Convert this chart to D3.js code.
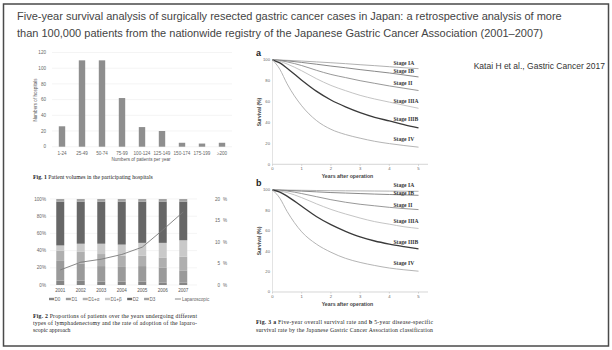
<!DOCTYPE html>
<html>
<head>
<meta charset="utf-8">
<script src="https://cdn.jsdelivr.net/npm/d3@7"></script>
<style>
  html, body { margin: 0; padding: 0; background: #fff; }
  svg { display: block; }
  .sans { font-family: "Liberation Sans", Arial, sans-serif; }
  .serif { font-family: "Liberation Serif", "Times New Roman", serif; }
</style>
</head>
<body>
<svg id="slide" width="612" height="350"></svg>
<script>
// ---- Fig. 1: hospitals by annual patient volume ----
const volumeBins = ["1-24", "25-49", "50-74", "75-99", "100-124", "125-149", "150-174", "175-199", "≥200"];
const hospitalCounts = [26, 110, 110, 62, 25, 20, 5, 4, 5];
const fig1Ticks = [0, 20, 40, 60, 80, 100, 120];

// ---- Fig. 2: lymphadenectomy types by year (%), laparoscopic rate (%) ----
const years = ["2001", "2002", "2003", "2004", "2005", "2006", "2007"];
const dissectionTypes = ["D0", "D1", "D1+α", "D1+β", "D2", "D3"];
const pctD0 = [5, 5, 4, 4, 4, 3, 3];
const pctD1 = [23, 20, 18, 17, 18, 17, 14];
const pctD1a = [12, 14, 14, 13, 12, 12, 16];
const pctD1b = [6, 9, 12, 13, 15, 17, 19];
const pctD2 = [51, 49, 49, 50, 48, 48, 45];
const pctD3 = [3, 3, 3, 3, 3, 3, 3];
const laparoscopicRate = [3.5, 5.3, 6.0, 7.1, 8.8, 12.8, 17.0];
const fig2LeftTicks = [0, 20, 40, 60, 80, 100];
const fig2RightTicks = [0, 5, 10, 15, 20];

// ---- Fig. 3: survival (%) by JGCA stage ----
const stages = ["Stage IA", "Stage IB", "Stage II", "Stage IIIA", "Stage IIIB", "Stage IV"];
const yearsAfterOp = [0, 0.25, 0.5, 1, 1.5, 2, 2.5, 3, 3.5, 4, 4.5, 5];
// a: overall survival
const osIA   = [100, 99.8, 99.5, 98.8, 98.0, 97.2, 96.3, 95.3, 94.4, 93.4, 92.4, 91.5];
const osIB   = [100, 99.6, 99.0, 97.5, 95.8, 94.0, 92.4, 90.6, 89.0, 87.4, 85.5, 83.6];
const osII   = [100, 99.3, 98.0, 94.5, 90.0, 86.0, 83.0, 80.0, 77.5, 75.0, 72.8, 70.6];
const osIIIA = [100, 98.5, 96.0, 89.5, 82.0, 75.5, 70.5, 66.0, 62.5, 59.5, 56.5, 53.6];
const osIIIB = [100, 97.0, 92.0, 80.5, 70.0, 61.5, 55.0, 49.5, 45.0, 41.5, 38.0, 34.8];
const osIV   = [100, 91.0, 77.0, 56.0, 42.0, 33.5, 28.5, 25.0, 22.0, 19.8, 18.0, 16.4];
// b: disease-specific survival
const dssIA   = [100, 100, 99.9, 99.7, 99.5, 99.3, 99.2, 99.1, 99.0, 98.9, 98.8, 98.7];
const dssIB   = [100, 99.9, 99.6, 98.9, 98.2, 97.5, 97.0, 96.5, 96.0, 95.6, 95.2, 94.8];
const dssII   = [100, 99.7, 99.0, 96.5, 93.5, 90.5, 88.0, 86.0, 84.5, 83.0, 81.8, 80.8];
const dssIIIA = [100, 99.0, 97.5, 92.5, 86.5, 81.0, 76.5, 72.5, 69.0, 66.5, 64.0, 62.3];
const dssIIIB = [100, 98.0, 94.0, 84.0, 74.0, 66.0, 59.5, 54.0, 50.0, 47.0, 44.5, 42.2];
const dssIV   = [100, 92.0, 79.0, 59.0, 47.0, 39.0, 33.0, 29.0, 26.0, 23.5, 21.8, 20.4];
const survivalTicks = [0, 20, 40, 60, 80, 100];
const yearTicks = [0, 1, 2, 3, 4, 5];

const svg = d3.select("#slide");

// slide frame
svg.append("rect").attr("x", 3.5).attr("y", 4).attr("width", 605).attr("height", 342)
  .attr("fill", "none").attr("stroke", "#4a4a4a").attr("stroke-width", 1.5);

// headline
const titleLines = [
  "Five-year survival analysis of surgically resected gastric cancer cases in Japan: a retrospective analysis of more",
  "than 100,000 patients from the nationwide registry of the Japanese Gastric Cancer Association (2001–2007)"
];
svg.append("g").selectAll("text").data(titleLines).join("text")
  .attr("class", "sans").attr("x", 17).attr("y", (d, i) => 19.5 + i * 17)
  .attr("font-size", 11).attr("fill", "#444").text(d => d);

svg.append("text").attr("class", "sans").attr("x", 605).attr("y", 69)
  .attr("text-anchor", "end")
  .attr("font-size", 8.5).attr("fill", "#333").text("Katai H et al., Gastric Cancer 2017");

const tiny = 4.6;

// ================= Fig. 1 =================
{
  const g = svg.append("g");
  const x = d3.scaleBand().domain(volumeBins).range([52, 232]).paddingInner(0.68).paddingOuter(0.34);
  const y = d3.scaleLinear().domain([0, 120]).range([146.7, 52.5]);

  g.append("g").selectAll("line").data(fig1Ticks).join("line")
    .attr("x1", 52).attr("x2", 232).attr("y1", d => y(d)).attr("y2", d => y(d))
    .attr("stroke", "#ececec").attr("stroke-width", 0.6);

  g.append("g").selectAll("text").data(fig1Ticks).join("text")
    .attr("class", "sans").attr("x", 46).attr("y", d => y(d)).attr("dy", "0.35em")
    .attr("text-anchor", "end").attr("font-size", tiny).attr("fill", "#666").text(d => d);

  g.append("g").selectAll("rect").data(hospitalCounts).join("rect")
    .attr("x", (d, i) => x(volumeBins[i])).attr("width", x.bandwidth())
    .attr("y", d => y(d)).attr("height", d => y(0) - y(d)).attr("fill", "#8e8e8e");

  g.append("g").selectAll("text").data(volumeBins).join("text")
    .attr("class", "sans").attr("x", d => x(d) + x.bandwidth() / 2).attr("y", 154.5)
    .attr("text-anchor", "middle").attr("font-size", tiny).attr("fill", "#666").text(d => d);

  g.append("text").attr("class", "sans").attr("x", 141).attr("y", 161)
    .attr("text-anchor", "middle").attr("font-size", tiny).attr("fill", "#555")
    .text("Numbers of patients per year");
  g.append("text").attr("class", "sans")
    .attr("transform", "translate(37,100) rotate(-90)")
    .attr("text-anchor", "middle").attr("font-size", tiny).attr("fill", "#555")
    .text("Numbers of hospitals");

  const cap = g.append("text").attr("class", "serif").attr("x", 33).attr("y", 179)
    .attr("font-size", 5.8).attr("fill", "#222");
  cap.append("tspan").attr("font-weight", "bold").text("Fig. 1");
  cap.append("tspan").text("  Patient volumes in the participating hospitals");
}

// ================= Fig. 2 =================
{
  const g = svg.append("g");
  const x = d3.scaleBand().domain(years).range([50, 193.5]).paddingInner(0.61).paddingOuter(0.305);
  const y = d3.scaleLinear().domain([0, 100]).range([285, 199]);
  const yR = d3.scaleLinear().domain([0, 20]).range([285, 199]);

  g.append("g").selectAll("line").data(fig2LeftTicks).join("line")
    .attr("x1", 50).attr("x2", 197).attr("y1", d => y(d)).attr("y2", d => y(d))
    .attr("stroke", "#ececec").attr("stroke-width", 0.6);

  g.append("g").selectAll("text").data(fig2LeftTicks).join("text")
    .attr("class", "sans").attr("x", 46).attr("y", d => y(d)).attr("dy", "0.35em")
    .attr("text-anchor", "end").attr("font-size", tiny).attr("fill", "#666").text(d => d + "%");

  const rightG = g.append("g").selectAll("g").data(fig2RightTicks).join("g");
  rightG.append("text").attr("class", "sans").attr("x", 220).attr("y", d => yR(d)).attr("dy", "0.35em")
    .attr("text-anchor", "end").attr("font-size", tiny).attr("fill", "#666").text(d => d);
  rightG.append("text").attr("class", "sans").attr("x", 223).attr("y", d => yR(d)).attr("dy", "0.35em")
    .attr("font-size", tiny).attr("fill", "#666").text("%");

  const typeColors = ["#858585", "#9a9a9a", "#afafaf", "#c9c9c9", "#676767", "#a2a2a2"];
  const rows = years.map((yr, i) => ({
    year: yr, D0: pctD0[i], D1: pctD1[i], "D1+α": pctD1a[i], "D1+β": pctD1b[i], D2: pctD2[i], D3: pctD3[i]
  }));
  const stacked = d3.stack().keys(dissectionTypes)(rows);
  g.append("g").selectAll("g").data(stacked).join("g")
    .attr("fill", (d, i) => typeColors[i])
    .selectAll("rect").data(d => d).join("rect")
    .attr("x", d => x(d.data.year)).attr("width", x.bandwidth())
    .attr("y", d => y(d[1])).attr("height", d => y(d[0]) - y(d[1]));

  const line = d3.line().x((d, i) => x(years[i]) + x.bandwidth() / 2).y(d => yR(d));
  g.append("path").datum(laparoscopicRate).attr("d", line)
    .attr("fill", "none").attr("stroke", "#7a7a7a").attr("stroke-width", 0.9);

  g.append("g").selectAll("text").data(years).join("text")
    .attr("class", "sans").attr("x", d => x(d) + x.bandwidth() / 2).attr("y", 292)
    .attr("text-anchor", "middle").attr("font-size", tiny).attr("fill", "#555").text(d => d);

  // legend
  const lg = g.append("g").attr("transform", "translate(49,299)");
  let cx = 0;
  dissectionTypes.forEach((t, i) => {
    lg.append("rect").attr("x", cx).attr("y", -1.2).attr("width", 5).attr("height", 2.4).attr("fill", typeColors[i]);
    const tx = lg.append("text").attr("class", "sans").attr("x", cx + 5.5).attr("y", 0).attr("dy", "0.35em")
      .attr("font-size", tiny).attr("fill", "#666").text(t);
    cx += 5.5 + tx.node().getComputedTextLength() + 5.5;
  });
  cx += 14;
  lg.append("line").attr("x1", cx).attr("x2", cx + 6).attr("y1", 0).attr("y2", 0)
    .attr("stroke", "#7a7a7a").attr("stroke-width", 0.9);
  lg.append("text").attr("class", "sans").attr("x", cx + 7).attr("y", 0).attr("dy", "0.35em")
    .attr("font-size", tiny).attr("fill", "#666").text("Laparoscopic");

  const capLines = [
    "types of lymphadenectomy and the rate of adoption of the laparo-",
    "scopic approach"
  ];
  const c1 = g.append("text").attr("class", "serif").attr("x", 33).attr("y", 317.5)
    .attr("font-size", 5.8).attr("fill", "#222").attr("textLength", 164).attr("lengthAdjust", "spacing");
  c1.append("tspan").attr("font-weight", "bold").text("Fig. 2");
  c1.append("tspan").text("  Proportions of patients over the years undergoing different");
  g.append("text").attr("class", "serif").attr("x", 33).attr("y", 324.8)
    .attr("font-size", 5.8).attr("fill", "#222").attr("textLength", 164).attr("lengthAdjust", "spacing")
    .text(capLines[0]);
  g.append("text").attr("class", "serif").attr("x", 33).attr("y", 332.1)
    .attr("font-size", 5.8).attr("fill", "#222").text(capLines[1]);
}

// ================= Fig. 3 =================
const stageColors = ["#a8a8a8", "#7c7c7c", "#8c8c8c", "#bdbdbd", "#3a3a3a", "#ababab"];
const stageWidths = [0.9, 0.9, 0.9, 0.9, 1.3, 0.9];

function survivalPanel(letter, series, yTop, yBottom, labelOffsets) {
  const g = svg.append("g");
  const x = d3.scaleLinear().domain([0, 5]).range([272.5, 418.5]);
  const y = d3.scaleLinear().domain([0, 100]).range([yBottom, yTop]);

  // axes
  g.append("line").attr("x1", x(0)).attr("x2", 428).attr("y1", y(0)).attr("y2", y(0))
    .attr("stroke", "#c4c4c4").attr("stroke-width", 0.7);
  g.append("line").attr("x1", x(0)).attr("x2", x(0)).attr("y1", y(0)).attr("y2", y(100))
    .attr("stroke", "#d0d0d0").attr("stroke-width", 0.6);
  g.append("g").selectAll("line").data(yearTicks).join("line")
    .attr("x1", d => x(d)).attr("x2", d => x(d)).attr("y1", y(0)).attr("y2", y(0) + 1.5)
    .attr("stroke", "#bbb").attr("stroke-width", 0.6);
  g.append("g").selectAll("text").data(yearTicks).join("text")
    .attr("class", "sans").attr("x", d => x(d)).attr("y", y(0) + 6)
    .attr("text-anchor", "middle").attr("font-size", 4.2).attr("fill", "#666").text(d => d);
  g.append("g").selectAll("text").data(survivalTicks).join("text")
    .attr("class", "sans").attr("x", 270).attr("y", d => y(d)).attr("dy", "0.35em")
    .attr("text-anchor", "end").attr("font-size", 4.2).attr("fill", "#666").text(d => d);

  g.append("text").attr("class", "sans").attr("x", (x(0) + x(5)) / 2 + 2).attr("y", y(0) + 14)
    .attr("text-anchor", "middle").attr("font-size", 5.2).attr("font-weight", "bold").attr("fill", "#444")
    .text("Years after operation");
  g.append("text").attr("class", "sans")
    .attr("transform", `translate(261,${(y(0) + y(100)) / 2}) rotate(-90)`)
    .attr("text-anchor", "middle").attr("font-size", 5).attr("font-weight", "bold").attr("fill", "#444")
    .text("Survival (%)");
  g.append("text").attr("class", "sans").attr("x", 256).attr("y", yTop - 4)
    .attr("font-size", 9).attr("font-weight", "bold").attr("fill", "#222").text(letter);

  const line = d3.line().x((d, i) => x(yearsAfterOp[i])).y(d => y(d)).curve(d3.curveMonotoneX);
  g.append("g").selectAll("path").data(series).join("path")
    .attr("d", line).attr("fill", "none")
    .attr("stroke", (d, i) => stageColors[i]).attr("stroke-width", (d, i) => stageWidths[i]);

  g.append("g").selectAll("text").data(series).join("text")
    .attr("class", "serif").attr("x", 393.5)
    .attr("y", (d, i) => y(d[d.length - 1]) - labelOffsets[i]).attr("dy", "0.35em")
    .attr("font-size", 5.6).attr("font-weight", "bold").attr("fill", "#333")
    .text((d, i) => stages[i]);
}

survivalPanel("a", [osIA, osIB, osII, osIIIA, osIIIB, osIV], 59.8, 164.3, [5.5, 6, 7.5, 7.5, 8.5, 8]);
survivalPanel("b", [dssIA, dssIB, dssII, dssIIIA, dssIIIB, dssIV], 190, 292, [6.3, 2.3, 4.6, 7.5, 7.3, 8.2]);

{
  const c1 = svg.append("text").attr("class", "serif").attr("x", 256).attr("y", 324)
    .attr("font-size", 5.8).attr("fill", "#222").attr("textLength", 177).attr("lengthAdjust", "spacing");
  c1.append("tspan").attr("font-weight", "bold").text("Fig. 3");
  c1.append("tspan").text("  ");
  c1.append("tspan").attr("font-weight", "bold").text("a");
  c1.append("tspan").text(" Five-year overall survival rate and ");
  c1.append("tspan").attr("font-weight", "bold").text("b");
  c1.append("tspan").text(" 5-year disease-specific");
  svg.append("text").attr("class", "serif").attr("x", 256).attr("y", 331.5)
    .attr("font-size", 5.8).attr("fill", "#222").attr("textLength", 177).attr("lengthAdjust", "spacing")
    .text("survival rate by the Japanese Gastric Cancer Association classification");
}
</script>
</body>
</html>
